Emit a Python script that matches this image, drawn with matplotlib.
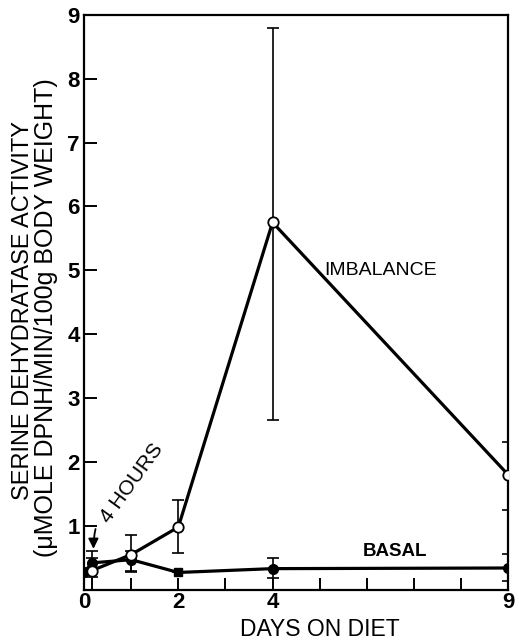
import numpy as np
import matplotlib
matplotlib.use("Agg")
import matplotlib.pyplot as plt

plt.rcParams['font.family'] = ['Liberation Sans', 'DejaVu Sans']

# === DATA ===
days = [0, 1 / 6, 1, 2, 4, 9]

imbalance = [0.27, 0.30, 0.55, 0.98, 5.75, 1.80]
imb_low = [0.27, 0.20, 0.27, 0.58, 2.65, 1.25]
imb_high = [0.27, 0.60, 0.86, 1.40, 8.80, 2.32]

basal = [0.27, 0.42, 0.47, 0.27, 0.33, 0.34]
basal_low = [0.27, 0.32, 0.30, 0.27, 0.19, 0.13]
basal_high = [0.27, 0.50, 0.60, 0.27, 0.50, 0.56]

x_ticks = [0, 1, 2, 3, 4, 5, 6, 7, 8, 9]
x_labels = ["0", "", "2", "", "4", "", "", "", "", "9"]
y_ticks = [0, 1, 2, 3, 4, 5, 6, 7, 8, 9]
y_labels = ["", "1", "2", "3", "4", "5", "6", "7", "8", "9"]

# === PLOT ===
fig = plt.figure(figsize=(5.19, 6.41), dpi=100)
ax = fig.add_axes([0.162, 0.080, 0.817, 0.897])

imb_err = [np.array(imbalance) - np.array(imb_low), np.array(imb_high) - np.array(imbalance)]
bas_err = [np.array(basal) - np.array(basal_low), np.array(basal_high) - np.array(basal)]

ax.errorbar(days, basal, yerr=bas_err, fmt='none', ecolor='black',
            elinewidth=1.2, capsize=4, capthick=1.2, zorder=2)
ax.errorbar(days, imbalance, yerr=imb_err, fmt='none', ecolor='black',
            elinewidth=1.2, capsize=4, capthick=1.2, zorder=2)

ax.plot(days, basal, color='black', lw=2.3, zorder=3)
# day 2 basal point is drawn as a square in the original
sq = [i for i, d in enumerate(days) if d == 2]
rnd = [i for i, d in enumerate(days) if d != 2]
ax.plot([days[i] for i in rnd], [basal[i] for i in rnd], 'o', color='black', ms=7, zorder=4)
ax.plot([days[i] for i in sq], [basal[i] for i in sq], 's', color='black', ms=6, zorder=4)
ax.plot(days, imbalance, color='black', lw=2.3, zorder=3)
ax.plot(days[1:], imbalance[1:], 'o', mfc='white', mec='black', mew=1.3, ms=7.5, zorder=5)

ax.text(6.3, 5.0, "IMBALANCE", fontsize=14, ha='center', va='center')
ax.text(6.6, 0.60, "BASAL", fontsize=13.5, fontweight='bold', ha='center', va='center')

ax.annotate("4 HOURS", xy=(0.2, 0.64), xytext=(1.02, 1.67), fontsize=15,
            rotation=54, ha='center', va='center',
            arrowprops=dict(arrowstyle='-|>', color='black', lw=1.3,
                            connectionstyle='arc3,rad=0.3', shrinkA=20, shrinkB=0))

ax.set_xlim(0, 9)
ax.set_ylim(0, 9)
ax.set_xticks(x_ticks)
ax.set_xticklabels(x_labels)
ax.set_xticks([1 / 6], minor=True)
ax.set_yticks(y_ticks)
ax.set_yticklabels(y_labels)

ax.tick_params(direction='in', length=9, width=1.4, labelsize=16, pad=3)
ax.tick_params(axis='x', pad=2)
ax.tick_params(which='minor', direction='in', length=9, width=1.4)
for lab in ax.get_xticklabels() + ax.get_yticklabels():
    lab.set_fontweight('bold')
for s in ax.spines.values():
    s.set_linewidth(1.6)

# x label sits a bit right of centre in the original
fig.text(0.617, 0.0, "DAYS ON DIET", fontsize=16.5, ha='center', va='bottom')
# two-line y label, second line drawn a little wider
fig.text(0.044, 0.515, "SERINE DEHYDRATASE ACTIVITY", fontsize=17,
         rotation=90, ha='center', va='center')
fig.text(0.088, 0.505, "(\u03bcMOLE DPNH/MIN/100g BODY WEIGHT)", fontsize=18,
         rotation=90, ha='center', va='center')

fig.savefig("out.png", dpi=100)
